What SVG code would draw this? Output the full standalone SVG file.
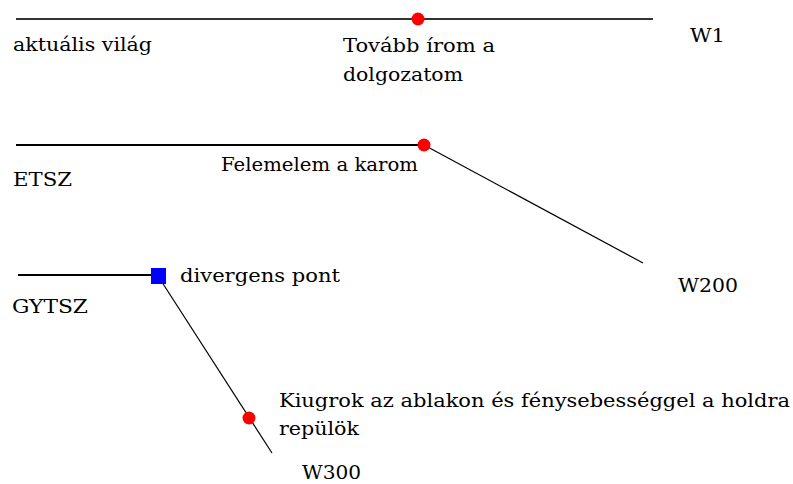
<svg xmlns="http://www.w3.org/2000/svg" width="793" height="484" viewBox="0 0 793 484">
<style>
text{font-family:"DejaVu Serif","Liberation Serif",serif;font-size:19px;fill:#000}
.ln{stroke:#000;fill:none}
.dot{fill:#ff0000}
</style>
<rect width="793" height="484" fill="#fff"/>
<g id="connectors">
<line class="ln" x1="16" y1="19" x2="653" y2="19" stroke-width="2.2" style="stroke:#333"/>
<line class="ln" x1="16" y1="145" x2="424" y2="145" stroke-width="2"/>
<line class="ln" x1="424" y1="145" x2="643" y2="263" stroke-width="1.2"/>
<line class="ln" x1="18" y1="275" x2="158" y2="275" stroke-width="1.8"/>
<line class="ln" x1="158" y1="276" x2="272" y2="453" stroke-width="1.2"/>
</g>
<g id="w1">
<circle class="dot" cx="418" cy="19" r="6.5"/>
<text x="13" y="51" textLength="139" lengthAdjust="spacingAndGlyphs">aktuális világ</text>
<text x="343" y="52" textLength="152" lengthAdjust="spacingAndGlyphs">Tovább írom a</text>
<text x="343" y="81" textLength="120" lengthAdjust="spacingAndGlyphs">dolgozatom</text>
<text x="690" y="42" textLength="35" lengthAdjust="spacingAndGlyphs">W1</text>
</g>
<g id="w200">
<circle class="dot" cx="424" cy="145" r="6.5"/>
<text x="221" y="171" textLength="197" lengthAdjust="spacingAndGlyphs">Felemelem a karom</text>
<text x="13" y="186" textLength="59" lengthAdjust="spacingAndGlyphs">ETSZ</text>
<text x="678" y="292" textLength="60" lengthAdjust="spacingAndGlyphs">W200</text>
</g>
<g id="w300">
<rect x="151" y="268" width="15" height="16" fill="#0000ff"/>
<text x="180" y="282" textLength="160" lengthAdjust="spacingAndGlyphs">divergens pont</text>
<text x="12" y="313" textLength="76" lengthAdjust="spacingAndGlyphs">GYTSZ</text>
<circle class="dot" cx="249" cy="418" r="6.5"/>
<text x="279" y="407" textLength="511" lengthAdjust="spacingAndGlyphs">Kiugrok az ablakon és fénysebességgel a holdra</text>
<text x="279" y="435" textLength="80" lengthAdjust="spacingAndGlyphs">repülök</text>
<text x="302" y="479" textLength="59" lengthAdjust="spacingAndGlyphs">W300</text>
</g>
</svg>
